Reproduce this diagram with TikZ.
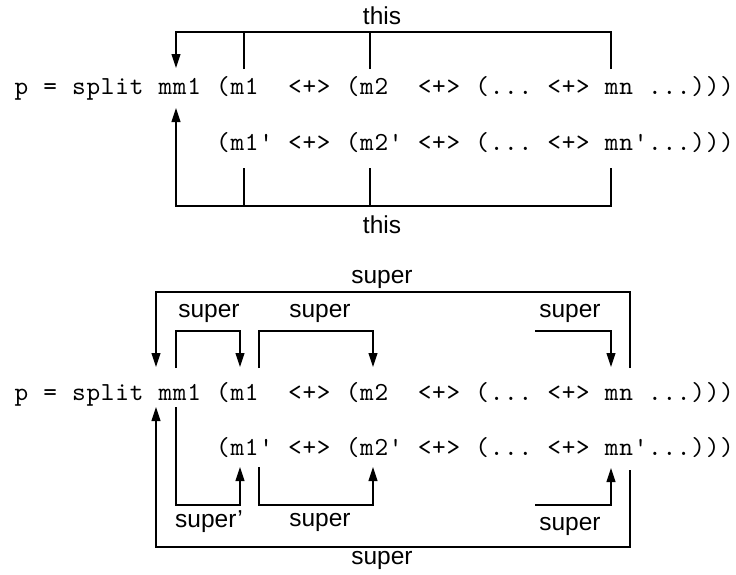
\documentclass[tikz,border=0pt]{standalone}
\usepackage{fontspec}
\setmainfont{Liberation Sans}
\setmonofont{lmmono10-regular.otf}
\usetikzlibrary{arrows.meta}
% fixed-pitch cells (14.4pt each) for the code lines
\newcommand\mcell[1]{\hbox to 14.4pt{\hss#1\hss}}
\def\mloop#1{\ifx#1\relax\else\mcell{#1}\expandafter\mloop\fi}
\begin{document}
\begin{tikzpicture}[x=1pt,y=-1pt,
  code/.style={font=\ttfamily\fontsize{26}{30}\selectfont, inner sep=0pt, anchor=base west},
  lbl/.style={font=\fontsize{24.5}{28}\selectfont, inner sep=0pt},
  wire/.style={line width=1.1pt},
  arr/.style={wire,-{Triangle[length=14pt,width=9pt]}}]
\useasboundingbox (0,0) rectangle (736,574);

% ---------------- top diagram ----------------
\node[code] (r1) at (14,94) {\mloop p~=~split~mm1~(m1~~<+>~(m2~~<+>~(...~<+>~mn~...)))\relax};
\node[code] (r2) at (215.6,150) {\mloop (m1'~<+>~(m2'~<+>~(...~<+>~mn'...)))\relax};
\node[lbl] (this1) at (382,16) {this};
\node[lbl] (this2) at (382,225) {this};

\coordinate (tL) at (176,32);  \coordinate (tA) at (244,32);
\coordinate (tB) at (370,32);  \coordinate (tR) at (611,32);
\coordinate (tAe) at (244,69); \coordinate (tBe) at (370,69);
\coordinate (tRe) at (611,69); \coordinate (tTip) at (176,68);
\draw[arr] (tRe) -- (tR) -- (tL) -- (tTip);
\draw[wire] (tAe) -- (tA);
\draw[wire] (tBe) -- (tB);

\coordinate (bL) at (176,206);  \coordinate (bA) at (244,206);
\coordinate (bB) at (370,206);  \coordinate (bR) at (611,206);
\coordinate (bAe) at (244,168); \coordinate (bBe) at (370,168);
\coordinate (bRe) at (611,168); \coordinate (bTip) at (176,108);
\draw[arr] (bRe) -- (bR) -- (bL) -- (bTip);
\draw[wire] (bAe) -- (bA);
\draw[wire] (bBe) -- (bB);

% ---------------- bottom diagram ----------------
\node[code] (s1) at (14,400) {\mloop p~=~split~mm1~(m1~~<+>~(m2~~<+>~(...~<+>~mn~...)))\relax};
\node[code] (s2) at (215.6,455) {\mloop (m1'~<+>~(m2'~<+>~(...~<+>~mn'...)))\relax};

\node[lbl] (sup0) at (382,279) {super};
\node[lbl] (sup1) at (209,313) {super};
\node[lbl] (sup2) at (320,313) {super};
\node[lbl] (sup3) at (570,313) {super};
\node[lbl] (sup4) at (209,522) {super'};
\node[lbl] (sup5) at (320,522) {super};
\node[lbl] (sup6) at (570,526) {super};
\node[lbl] (sup7) at (382,560) {super};

% outer upper
\coordinate (oUL) at (156,292); \coordinate (oUR) at (630,292);
\coordinate (oUTip) at (156,367); \coordinate (oURe) at (630,368);
\draw[arr] (oURe) -- (oUR) -- (oUL) -- (oUTip);
% inner upper
\coordinate (i1s) at (176,368); \coordinate (i1a) at (176,331);
\coordinate (i1b) at (240,331); \coordinate (i1t) at (240,367);
\draw[arr] (i1s) -- (i1a) -- (i1b) -- (i1t);
\coordinate (i2s) at (259,368); \coordinate (i2a) at (259,331);
\coordinate (i2b) at (373,331); \coordinate (i2t) at (373,367);
\draw[arr] (i2s) -- (i2a) -- (i2b) -- (i2t);
\coordinate (i3s) at (535,331); \coordinate (i3b) at (611,331);
\coordinate (i3t) at (611,367);
\draw[arr] (i3s) -- (i3b) -- (i3t);

% outer lower
\coordinate (oLL) at (156,547); \coordinate (oLR) at (630,547);
\coordinate (oLTip) at (156,407); \coordinate (oLRe) at (630,470);
\draw[arr] (oLRe) -- (oLR) -- (oLL) -- (oLTip);
% inner lower
\coordinate (j1s) at (176,407); \coordinate (j1a) at (176,505);
\coordinate (j1b) at (240,505); \coordinate (j1t) at (240,467);
\draw[arr] (j1s) -- (j1a) -- (j1b) -- (j1t);
\coordinate (j2s) at (259,467); \coordinate (j2a) at (259,505);
\coordinate (j2b) at (373,505); \coordinate (j2t) at (373,467);
\draw[arr] (j2s) -- (j2a) -- (j2b) -- (j2t);
\coordinate (j3s) at (535,505); \coordinate (j3b) at (611,505);
\coordinate (j3t) at (611,468);
\draw[arr] (j3s) -- (j3b) -- (j3t);
\end{tikzpicture}
\end{document}
